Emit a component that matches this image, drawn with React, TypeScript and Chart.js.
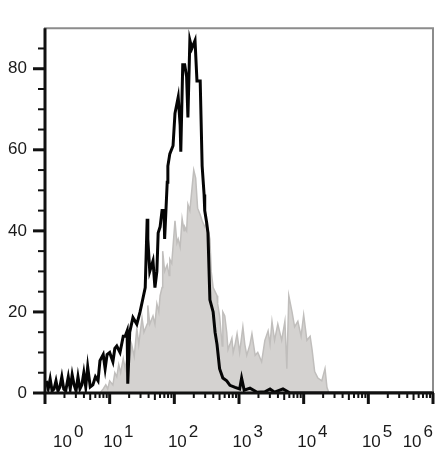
import React, { useEffect, useRef } from "react";
import { Chart, registerables } from "chart.js";

Chart.register(...registerables);

// Decade positions (log10 of fluorescence intensity) and their exponent labels
const xDecades = [0, 1, 2, 3, 4, 5, 6];
const xExponents = ["0", "1", "2", "3", "4", "5", "6"];
const yMajorValues = [0, 20, 40, 60, 80];

// Black outlined histogram (stained sample)
const blackLogX = [
  0.02, 0.05, 0.08, 0.11, 0.14, 0.17, 0.2, 0.23, 0.26, 0.29, 0.32, 0.36, 0.39, 0.42, 0.45, 0.48,
  0.51, 0.54, 0.57, 0.6, 0.63, 0.66, 0.7, 0.74, 0.78, 0.82, 0.85, 0.9, 0.93, 0.96, 1.0, 1.05,
  1.08, 1.11, 1.16, 1.21, 1.24, 1.27, 1.28, 1.31, 1.36, 1.42, 1.47, 1.51, 1.55, 1.58, 1.59, 1.62,
  1.67, 1.7, 1.73, 1.75, 1.78, 1.81, 1.84, 1.85, 1.89, 1.9, 1.93, 1.98, 2.01, 2.06, 2.09, 2.1,
  2.13, 2.16, 2.19, 2.21, 2.24, 2.27, 2.32, 2.35, 2.4, 2.43, 2.46, 2.47, 2.5, 2.52, 2.55, 2.6,
  2.63, 2.66, 2.7, 2.75, 2.81, 2.86, 2.94, 3.01, 3.04, 3.08, 3.17, 3.28, 3.4, 3.48, 3.55, 3.68,
  3.79, 6.0,
];
const blackCounts = [
  3, 1, 3.5, 0.5, 1, 3, 0.5, 1.5, 4, 1, 0.5, 4, 1, 4.5, 2, 0.5,
  4, 1, 2, 5, 1.5, 6.5, 1.5, 2, 4, 3, 8, 9.5, 6, 9.5, 10, 7.7,
  11, 11.6, 10, 14, 14, 15.3, 2.3, 15, 18.6, 17, 20, 23, 26, 43, 38, 30,
  32.6, 26, 30, 39.5, 41, 45, 45, 38, 52, 56, 59, 61, 69, 73, 66, 59.5,
  81, 81, 78, 68, 87, 85, 87, 77, 77, 56, 49, 45, 42, 39.5, 23, 20,
  15, 12, 6, 3.7, 3, 1.9, 1.4, 1, 3.7, 0.7, 1.2, 0.2, 0.3, 1, 0.2, 1,
  0, 0,
];

// Grey filled histogram (control)
const greyLogX = [
  0.85, 0.9, 0.94, 0.97, 1.0, 1.05, 1.08, 1.11, 1.14, 1.17, 1.21, 1.24, 1.27, 1.3, 1.34, 1.38,
  1.42, 1.45, 1.5, 1.53, 1.58, 1.59, 1.62, 1.67, 1.7, 1.73, 1.76, 1.78, 1.81, 1.82, 1.85, 1.89,
  1.92, 1.93, 1.96, 2.01, 2.04, 2.06, 2.09, 2.12, 2.15, 2.16, 2.19, 2.21, 2.24, 2.27, 2.3, 2.33,
  2.36, 2.4, 2.43, 2.47, 2.5, 2.55, 2.57, 2.6, 2.63, 2.66, 2.67, 2.7, 2.74, 2.75, 2.78, 2.81,
  2.83, 2.86, 2.89, 2.91, 2.94, 2.97, 3.01, 3.06, 3.09, 3.12, 3.17, 3.2, 3.25, 3.29, 3.35, 3.4,
  3.45, 3.48, 3.51, 3.55, 3.6, 3.63, 3.66, 3.71, 3.74, 3.77, 3.82, 3.86, 3.91, 3.96, 4.0, 4.05,
  4.1, 4.13, 4.17, 4.22, 4.28, 4.33, 4.36, 4.39,
];
const greyCounts = [
  0, 1, 2, 1, 3, 2, 5, 4, 7, 5, 8.5, 6, 9, 7, 12, 9,
  16, 12, 18.6, 15, 17, 21.6, 17, 19, 17, 22, 20, 24, 26, 35, 30, 31.6,
  29, 33, 32, 42.5, 37, 38, 36, 43, 40, 41, 40, 46.5, 45, 50, 55, 53,
  45.6, 44, 42.5, 41, 42, 38, 30, 26, 25, 24, 22, 19, 11.6, 20, 19, 15,
  10.7, 12, 13.5, 10, 12, 14.6, 10, 16.3, 12, 9.3, 12, 14.6, 9.3, 10, 7.7, 13,
  15.3, 12, 17.7, 13, 17, 15, 13, 17.7, 6, 24, 20, 16.3, 17.7, 14, 19.3, 13,
  14, 10.7, 5.3, 3.7, 3, 6, 1.4, 0,
];

const FONT = 'Arial, "Liberation Sans", sans-serif';

const axesPlugin = {
  id: "flowAxes",
  afterDraw(chart: any) {
    const { ctx, chartArea: a, scales } = chart;
    const xs = scales.x;
    const ys = scales.y;
    ctx.save();

    // grey frame (top & right)
    ctx.strokeStyle = "#8c8c8c";
    ctx.lineWidth = 2;
    ctx.beginPath();
    ctx.moveTo(a.left - 1, a.top);
    ctx.lineTo(a.right, a.top);
    ctx.lineTo(a.right, a.bottom);
    ctx.stroke();

    // black axes
    ctx.strokeStyle = "#111";
    ctx.lineWidth = 3;
    ctx.beginPath();
    ctx.moveTo(a.left, a.top);
    ctx.lineTo(a.left, a.bottom + 1.5);
    ctx.moveTo(a.left - 1.5, a.bottom);
    ctx.lineTo(a.right + 1, a.bottom);
    ctx.stroke();

    // y ticks (major + minor)
    ys.ticks.forEach((t: any) => {
      if (t.value >= ys.max) return;
      const y = ys.getPixelForValue(t.value);
      const major = yMajorValues.includes(t.value);
      ctx.lineWidth = major ? 3 : 2;
      ctx.beginPath();
      ctx.moveTo(a.left - (major ? 12 : 7), y);
      ctx.lineTo(a.left, y);
      ctx.stroke();
    });

    // x ticks (major decades + minor 2..9)
    xDecades.forEach((d, i) => {
      const x = xs.getPixelForValue(d);
      ctx.lineWidth = 3;
      ctx.beginPath();
      ctx.moveTo(x, a.bottom);
      ctx.lineTo(x, a.bottom + 11);
      ctx.stroke();
      if (i < xDecades.length - 1) {
        for (let m = 2; m <= 9; m++) {
          const xm = xs.getPixelForValue(d + Math.log10(m));
          ctx.lineWidth = 2;
          ctx.beginPath();
          ctx.moveTo(xm, a.bottom);
          ctx.lineTo(xm, a.bottom + (m === 5 ? 7 : 5));
          ctx.stroke();
        }
      }
    });

    // x labels: 10^k
    ctx.fillStyle = "#1a1a1a";
    ctx.font = `17px ${FONT}`;
    ctx.textAlign = "left";
    ctx.textBaseline = "alphabetic";
    const base = "10";
    const bw = ctx.measureText(base).width;
    xDecades.forEach((d, i) => {
      const x = xs.getPixelForValue(d);
      const sup = xExponents[i];
      const sw = ctx.measureText(sup).width;
      let left: number;
      if (i === 0) left = x + 8;
      else if (i === xDecades.length - 1) left = x - (bw + 2 + sw);
      else left = x + 3 - bw / 2;
      ctx.fillText(base, left, a.bottom + 54);
      ctx.fillText(sup, left + bw + 2, a.bottom + 44);
    });

    ctx.restore();
  },
};

export default function App() {
  const canvasRef = useRef<HTMLCanvasElement | null>(null);

  useEffect(() => {
    const canvas = canvasRef.current;
    if (!canvas) return;
    const chart = new Chart(canvas, {
      type: "line",
      data: {
        datasets: [
          {
            label: "stained",
            data: blackLogX.map((x, i) => ({ x, y: blackCounts[i] })),
            borderColor: "#050505",
            borderWidth: 3,
            fill: false,
            pointRadius: 0,
            tension: 0,
            order: 1,
          },
          {
            label: "control",
            data: greyLogX.map((x, i) => ({ x, y: greyCounts[i] })),
            borderColor: "#c0bebc",
            borderWidth: 1.5,
            backgroundColor: "#d4d2d0",
            fill: "origin",
            pointRadius: 0,
            tension: 0,
            order: 2,
          },
        ],
      },
      options: {
        responsive: false,
        animation: false,
        events: [],
        layout: { padding: { top: 5, right: 9, left: 0, bottom: 0 } },
        plugins: {
          legend: { display: false },
          tooltip: { enabled: false },
          title: { display: false },
        },
        scales: {
          x: {
            type: "linear",
            min: 0,
            max: 6,
            grid: { display: false, drawTicks: false },
            border: { display: false },
            ticks: { display: false, stepSize: 1 },
            afterFit: (scale: any) => {
              scale.height = 59;
            },
          },
          y: {
            type: "linear",
            min: 0,
            max: 90,
            grid: { display: false, drawTicks: false },
            border: { display: false },
            ticks: {
              stepSize: 5,
              autoSkip: false,
              padding: 18,
              color: "#1a1a1a",
              font: { size: 17, family: FONT },
              callback: (v: any) => (yMajorValues.includes(Number(v)) ? String(v) : ""),
            },
            afterFit: (scale: any) => {
              scale.width = 45;
            },
          },
        },
      },
      plugins: [axesPlugin],
    });
    return () => chart.destroy();
  }, []);

  return (
    <div style={{ position: "absolute", left: 0, top: 0, width: 442, height: 452, background: "#fff" }}>
      <canvas ref={canvasRef} width={442} height={452} style={{ display: "block" }} />
    </div>
  );
}
